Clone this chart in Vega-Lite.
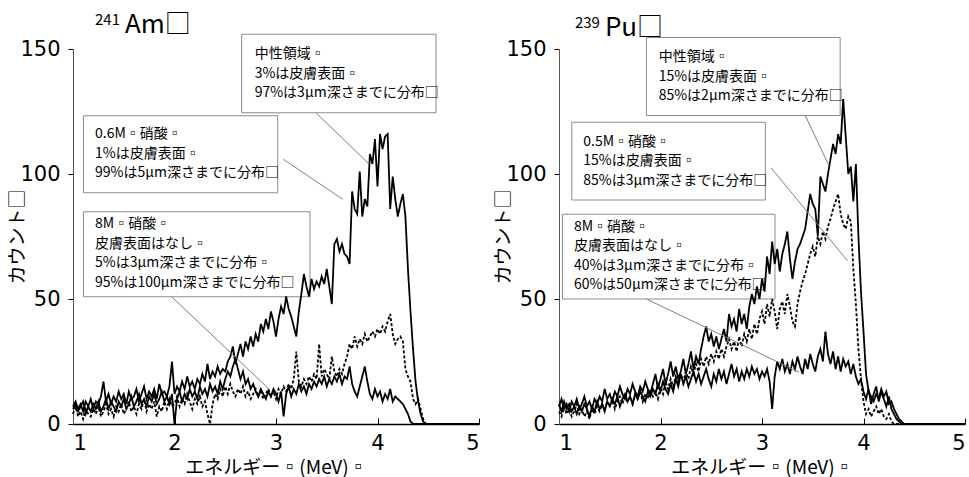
{
 "$schema": "https://vega.github.io/schema/vega-lite/v6.json",
 "background": "white",
 "padding": {"left": 8, "top": 12, "right": 0, "bottom": 0},
 "spacing": 11,
 "config": {
  "font": "Noto Sans CJK JP",
  "view": {"stroke": null},
  "scale": {"continuousPadding": 0},
  "axis": {"grid": false, "domainColor": "#000", "tickColor": "#000", "labelColor": "#000", "titleColor": "#000", "labelFont": "DejaVu Sans", "titleFont": "Noto Sans CJK JP", "titleFontWeight": "normal", "labelFontSize": 21, "titleFontSize": 19}
 },
 "datasets": {
  "am": [
   {"e":1.000,"a":7,"b":4,"c":6},{"e":1.025,"a":9,"b":7,"c":8},{"e":1.050,"a":6,"b":3,"c":5},{"e":1.075,"a":8,"b":5,"c":7},{"e":1.100,"a":5,"b":2,"c":9},{"e":1.125,"a":9,"b":6,"c":4},{"e":1.150,"a":7,"b":4,"c":7},{"e":1.175,"a":10,"b":3,"c":5},{"e":1.200,"a":6,"b":6,"c":8},{"e":1.225,"a":9,"b":4,"c":6},
   {"e":1.250,"a":8,"b":7,"c":9},{"e":1.275,"a":11,"b":3,"c":5},{"e":1.300,"a":17,"b":5,"c":7},{"e":1.325,"a":9,"b":8,"c":10},{"e":1.350,"a":12,"b":4,"c":6},{"e":1.375,"a":8,"b":6,"c":9},{"e":1.400,"a":11,"b":3,"c":7},{"e":1.425,"a":9,"b":7,"c":5},{"e":1.450,"a":13,"b":5,"c":9},{"e":1.475,"a":10,"b":8,"c":7},
   {"e":1.500,"a":12,"b":4,"c":10},{"e":1.525,"a":8,"b":6,"c":6},{"e":1.550,"a":13,"b":9,"c":8},{"e":1.575,"a":10,"b":5,"c":11},{"e":1.600,"a":11,"b":7,"c":7},{"e":1.625,"a":14,"b":4,"c":9},{"e":1.650,"a":9,"b":8,"c":12},{"e":1.675,"a":12,"b":6,"c":8},{"e":1.700,"a":15,"b":10,"c":10},{"e":1.725,"a":10,"b":5,"c":7},
   {"e":1.750,"a":13,"b":8,"c":11},{"e":1.775,"a":11,"b":6,"c":9},{"e":1.800,"a":14,"b":9,"c":12},{"e":1.825,"a":10,"b":3,"c":8},{"e":1.850,"a":16,"b":7,"c":10},{"e":1.875,"a":12,"b":5,"c":13},{"e":1.900,"a":13,"b":9,"c":9},{"e":1.925,"a":11,"b":6,"c":11},{"e":1.950,"a":15,"b":10,"c":8},{"e":1.975,"a":25,"b":7,"c":12},
   {"e":2.000,"a":12,"b":8,"c":0},{"e":2.025,"a":15,"b":11,"c":10},{"e":2.050,"a":13,"b":7,"c":13},{"e":2.075,"a":17,"b":10,"c":9},{"e":2.100,"a":14,"b":8,"c":12},{"e":2.125,"a":19,"b":12,"c":10},{"e":2.150,"a":15,"b":9,"c":14},{"e":2.175,"a":17,"b":6,"c":11},{"e":2.200,"a":14,"b":10,"c":13},{"e":2.225,"a":18,"b":8,"c":10},
   {"e":2.250,"a":16,"b":11,"c":15},{"e":2.275,"a":20,"b":7,"c":12},{"e":2.300,"a":17,"b":9,"c":14},{"e":2.325,"a":24,"b":4,"c":11},{"e":2.350,"a":18,"b":0,"c":16},{"e":2.375,"a":21,"b":8,"c":13},{"e":2.400,"a":19,"b":12,"c":15},{"e":2.425,"a":23,"b":10,"c":12},{"e":2.450,"a":20,"b":14,"c":17},{"e":2.475,"a":22,"b":11,"c":14},
   {"e":2.500,"a":21,"b":15,"c":18},{"e":2.525,"a":25,"b":12,"c":21},{"e":2.550,"a":27,"b":16,"c":19},{"e":2.575,"a":31,"b":13,"c":23},{"e":2.600,"a":24,"b":11,"c":26},{"e":2.625,"a":28,"b":14,"c":22},{"e":2.650,"a":32,"b":12,"c":18},{"e":2.675,"a":27,"b":15,"c":21},{"e":2.700,"a":33,"b":11,"c":16},{"e":2.725,"a":30,"b":13,"c":18},
   {"e":2.750,"a":35,"b":10,"c":14},{"e":2.775,"a":31,"b":12,"c":16},{"e":2.800,"a":36,"b":14,"c":13},{"e":2.825,"a":33,"b":11,"c":11},{"e":2.850,"a":40,"b":13,"c":14},{"e":2.875,"a":37,"b":10,"c":12},{"e":2.900,"a":42,"b":12,"c":10},{"e":2.925,"a":38,"b":14,"c":13},{"e":2.950,"a":45,"b":11,"c":11},{"e":2.975,"a":41,"b":13,"c":14},
   {"e":3.000,"a":35,"b":10,"c":12},{"e":3.025,"a":42,"b":14,"c":9},{"e":3.050,"a":47,"b":12,"c":13},{"e":3.075,"a":44,"b":15,"c":3},{"e":3.100,"a":51,"b":13,"c":12},{"e":3.125,"a":46,"b":16,"c":15},{"e":3.150,"a":43,"b":14,"c":11},{"e":3.175,"a":39,"b":18,"c":14},{"e":3.200,"a":35,"b":29,"c":12},{"e":3.225,"a":45,"b":17,"c":16},
   {"e":3.250,"a":52,"b":15,"c":13},{"e":3.275,"a":60,"b":18,"c":15},{"e":3.300,"a":55,"b":16,"c":12},{"e":3.325,"a":51,"b":19,"c":16},{"e":3.350,"a":58,"b":17,"c":14},{"e":3.375,"a":54,"b":20,"c":17},{"e":3.400,"a":57,"b":18,"c":15},{"e":3.425,"a":55,"b":32,"c":18},{"e":3.450,"a":59,"b":19,"c":16},{"e":3.475,"a":56,"b":22,"c":19},
   {"e":3.500,"a":62,"b":20,"c":15},{"e":3.525,"a":55,"b":18,"c":18},{"e":3.550,"a":48,"b":27,"c":16},{"e":3.575,"a":72,"b":21,"c":19},{"e":3.600,"a":74,"b":19,"c":17},{"e":3.625,"a":69,"b":22,"c":20},{"e":3.650,"a":72,"b":20,"c":16},{"e":3.675,"a":68,"b":24,"c":19},{"e":3.700,"a":67,"b":27,"c":18},{"e":3.725,"a":64,"b":32,"c":23},
   {"e":3.750,"a":93,"b":30,"c":16},{"e":3.775,"a":86,"b":35,"c":13},{"e":3.800,"a":84,"b":31,"c":11},{"e":3.825,"a":101,"b":34,"c":15},{"e":3.850,"a":83,"b":32,"c":19},{"e":3.875,"a":90,"b":36,"c":23},{"e":3.900,"a":87,"b":33,"c":17},{"e":3.925,"a":108,"b":35,"c":12},{"e":3.950,"a":104,"b":37,"c":10},{"e":3.975,"a":114,"b":35,"c":14},
   {"e":4.000,"a":95,"b":38,"c":11},{"e":4.025,"a":116,"b":36,"c":13},{"e":4.050,"a":110,"b":39,"c":9},{"e":4.075,"a":115,"b":37,"c":12},{"e":4.100,"a":116,"b":41,"c":10},{"e":4.125,"a":86,"b":44,"c":14},{"e":4.150,"a":99,"b":36,"c":9},{"e":4.175,"a":90,"b":32,"c":11},{"e":4.200,"a":83,"b":34,"c":10},{"e":4.225,"a":88,"b":35,"c":9},
   {"e":4.250,"a":92,"b":33,"c":8},{"e":4.275,"a":83,"b":22,"c":6},{"e":4.300,"a":62,"b":19,"c":4},{"e":4.325,"a":45,"b":17,"c":1},{"e":4.350,"a":30,"b":10,"c":0},{"e":4.375,"a":17,"b":8,"c":0},{"e":4.400,"a":9,"b":10,"c":0},{"e":4.425,"a":4,"b":6,"c":0},{"e":4.450,"a":1,"b":2,"c":0},{"e":4.475,"a":0,"b":0,"c":0},
   {"e":4.500,"a":0,"b":0,"c":0},{"e":5.000,"a":0,"b":0,"c":0}
  ],
  "pu": [
   {"e":1.000,"a":7,"b":5,"c":8},{"e":1.025,"a":10,"b":3,"c":5},{"e":1.050,"a":6,"b":7,"c":9},{"e":1.075,"a":8,"b":4,"c":6},{"e":1.100,"a":5,"b":6,"c":8},{"e":1.125,"a":9,"b":3,"c":5},{"e":1.150,"a":7,"b":5,"c":7},{"e":1.175,"a":10,"b":8,"c":4},{"e":1.200,"a":6,"b":4,"c":7},{"e":1.225,"a":8,"b":6,"c":5},
   {"e":1.250,"a":11,"b":3,"c":8},{"e":1.275,"a":7,"b":5,"c":6},{"e":1.300,"a":9,"b":2,"c":3},{"e":1.325,"a":6,"b":6,"c":7},{"e":1.350,"a":10,"b":4,"c":5},{"e":1.375,"a":8,"b":7,"c":9},{"e":1.400,"a":11,"b":5,"c":6},{"e":1.425,"a":9,"b":8,"c":8},{"e":1.450,"a":14,"b":6,"c":5},{"e":1.475,"a":10,"b":9,"c":9},
   {"e":1.500,"a":12,"b":7,"c":7},{"e":1.525,"a":9,"b":10,"c":10},{"e":1.550,"a":13,"b":6,"c":8},{"e":1.575,"a":11,"b":9,"c":11},{"e":1.600,"a":15,"b":11,"c":7},{"e":1.625,"a":12,"b":8,"c":10},{"e":1.650,"a":10,"b":12,"c":12},{"e":1.675,"a":14,"b":9,"c":9},{"e":1.700,"a":12,"b":11,"c":11},{"e":1.725,"a":16,"b":8,"c":8},
   {"e":1.750,"a":13,"b":12,"c":12},{"e":1.775,"a":11,"b":10,"c":10},{"e":1.800,"a":15,"b":13,"c":13},{"e":1.825,"a":13,"b":9,"c":11},{"e":1.850,"a":17,"b":12,"c":9},{"e":1.875,"a":14,"b":10,"c":13},{"e":1.900,"a":12,"b":14,"c":11},{"e":1.925,"a":16,"b":11,"c":14},{"e":1.950,"a":20,"b":13,"c":12},{"e":1.975,"a":14,"b":10,"c":16},
   {"e":2.000,"a":18,"b":15,"c":13},{"e":2.025,"a":22,"b":12,"c":17},{"e":2.050,"a":16,"b":17,"c":14},{"e":2.075,"a":20,"b":14,"c":12},{"e":2.100,"a":25,"b":18,"c":16},{"e":2.125,"a":19,"b":15,"c":13},{"e":2.150,"a":23,"b":19,"c":18},{"e":2.175,"a":18,"b":16,"c":15},{"e":2.200,"a":21,"b":20,"c":20},{"e":2.225,"a":26,"b":17,"c":16},
   {"e":2.250,"a":20,"b":21,"c":19},{"e":2.275,"a":24,"b":18,"c":15},{"e":2.300,"a":29,"b":23,"c":18},{"e":2.325,"a":22,"b":20,"c":21},{"e":2.350,"a":27,"b":24,"c":17},{"e":2.375,"a":24,"b":21,"c":20},{"e":2.400,"a":30,"b":26,"c":16},{"e":2.425,"a":35,"b":23,"c":19},{"e":2.450,"a":39,"b":27,"c":22},{"e":2.475,"a":33,"b":24,"c":18},
   {"e":2.500,"a":36,"b":28,"c":15},{"e":2.525,"a":31,"b":25,"c":20},{"e":2.550,"a":35,"b":29,"c":17},{"e":2.575,"a":30,"b":26,"c":22},{"e":2.600,"a":34,"b":30,"c":18},{"e":2.625,"a":38,"b":27,"c":21},{"e":2.650,"a":33,"b":31,"c":16},{"e":2.675,"a":44,"b":34,"c":20},{"e":2.700,"a":39,"b":30,"c":24},{"e":2.725,"a":42,"b":33,"c":19},
   {"e":2.750,"a":37,"b":29,"c":22},{"e":2.775,"a":46,"b":35,"c":17},{"e":2.800,"a":40,"b":31,"c":21},{"e":2.825,"a":44,"b":36,"c":18},{"e":2.850,"a":38,"b":33,"c":22},{"e":2.875,"a":47,"b":38,"c":19},{"e":2.900,"a":52,"b":34,"c":23},{"e":2.925,"a":48,"b":40,"c":20},{"e":2.950,"a":55,"b":36,"c":22},{"e":2.975,"a":50,"b":42,"c":18},
   {"e":3.000,"a":58,"b":45,"c":21},{"e":3.025,"a":53,"b":40,"c":19},{"e":3.050,"a":67,"b":48,"c":22},{"e":3.075,"a":60,"b":43,"c":17},{"e":3.100,"a":73,"b":50,"c":6},{"e":3.125,"a":64,"b":45,"c":19},{"e":3.150,"a":70,"b":38,"c":25},{"e":3.175,"a":61,"b":46,"c":22},{"e":3.200,"a":68,"b":49,"c":26},{"e":3.225,"a":72,"b":44,"c":21},
   {"e":3.250,"a":77,"b":52,"c":24},{"e":3.275,"a":66,"b":47,"c":20},{"e":3.300,"a":58,"b":41,"c":25},{"e":3.325,"a":65,"b":39,"c":22},{"e":3.350,"a":70,"b":48,"c":27},{"e":3.375,"a":72,"b":53,"c":23},{"e":3.400,"a":75,"b":57,"c":20},{"e":3.425,"a":78,"b":60,"c":26},{"e":3.450,"a":85,"b":64,"c":22},{"e":3.475,"a":92,"b":68,"c":28},
   {"e":3.500,"a":88,"b":71,"c":24},{"e":3.525,"a":86,"b":67,"c":21},{"e":3.550,"a":75,"b":75,"c":27},{"e":3.575,"a":99,"b":72,"c":30},{"e":3.600,"a":96,"b":77,"c":25},{"e":3.625,"a":93,"b":74,"c":37},{"e":3.650,"a":100,"b":79,"c":28},{"e":3.675,"a":106,"b":82,"c":24},{"e":3.700,"a":112,"b":86,"c":29},{"e":3.725,"a":108,"b":89,"c":22},
   {"e":3.750,"a":116,"b":92,"c":27},{"e":3.775,"a":112,"b":84,"c":21},{"e":3.800,"a":130,"b":80,"c":26},{"e":3.825,"a":115,"b":78,"c":23},{"e":3.850,"a":100,"b":83,"c":25},{"e":3.875,"a":103,"b":81,"c":20},{"e":3.900,"a":89,"b":62,"c":24},{"e":3.925,"a":104,"b":48,"c":19},{"e":3.950,"a":75,"b":30,"c":16},{"e":3.975,"a":53,"b":18,"c":18},
   {"e":4.000,"a":37,"b":9,"c":13},{"e":4.025,"a":20,"b":4,"c":10},{"e":4.050,"a":13,"b":6,"c":14},{"e":4.075,"a":11,"b":3,"c":8},{"e":4.100,"a":9,"b":5,"c":12},{"e":4.125,"a":12,"b":7,"c":15},{"e":4.150,"a":10,"b":4,"c":9},{"e":4.175,"a":14,"b":6,"c":13},{"e":4.200,"a":11,"b":3,"c":10},{"e":4.225,"a":13,"b":2,"c":7},
   {"e":4.250,"a":8,"b":4,"c":11},{"e":4.275,"a":9,"b":1,"c":6},{"e":4.300,"a":6,"b":0,"c":4},{"e":4.325,"a":4,"b":0,"c":2},{"e":4.350,"a":2,"b":0,"c":1},{"e":4.375,"a":1,"b":0,"c":0},{"e":4.400,"a":0,"b":0,"c":0},{"e":4.500,"a":0,"b":0,"c":0},{"e":5.000,"a":0,"b":0,"c":0}
  ]
 },
 "hconcat": [
  {
   "width": 406, "height": 375,
   "layer": [
    {
     "data": {"values": [
      {"x1": 2.662, "x2": 4.576, "y1": 155.9, "y2": 124.5},
      {"x1": 1.103, "x2": 3.017, "y1": 123.3, "y2": 92.5},
      {"x1": 1.103, "x2": 3.335, "y1": 84.9, "y2": 50.9}
     ]},
     "mark": {"type": "rect", "fill": "white", "stroke": "#8c8c8c", "strokeWidth": 1},
     "encoding": {
      "x": {"field": "x1", "type": "quantitative", "scale": {"domain": [1, 5], "nice": false, "zero": false, "padding": 0},
            "axis": {"title": "エネルギー▫(MeV)▫", "values": [1, 2, 3, 4, 5], "format": "d", "tickSize": -6, "labelPadding": 14, "titlePadding": 5, "domainWidth": 1.5}},
      "x2": {"field": "x2"},
      "y": {"field": "y1", "type": "quantitative", "scale": {"domain": [0, 150], "nice": false, "padding": 0},
            "axis": {"title": "カウント□", "values": [0, 50, 100, 150], "tickSize": 5, "labelPadding": 8, "titlePadding": -8, "domainColor": "#555"}},
      "y2": {"field": "y2"}
     }
    },
    {
     "data": {"name": "am"},
     "transform": [{"fold": ["a", "b", "c"], "as": ["s", "v"]}],
     "mark": {"type": "line", "color": "black", "strokeWidth": 1.8},
     "encoding": {
      "x": {"field": "e", "type": "quantitative", "title": "エネルギー▫(MeV)▫", "scale": {"domain": [1, 5], "nice": false, "zero": false, "padding": 0}},
      "y": {"field": "v", "type": "quantitative", "title": "カウント□", "scale": {"domain": [0, 150], "nice": false, "padding": 0}},
      "strokeDash": {"field": "s", "type": "nominal", "scale": {"domain": ["a", "b", "c"], "range": [[1, 0], [3, 2], [1, 0]]}, "legend": null}
     }
    },
    {
     "data": {"values": [
      {"x": 2.79, "y": 150.8, "t": "中性領域▫\n3%は皮膚表面▫\n97%は3µm深さまでに分布□"},
      {"x": 1.217, "y": 118.8, "t": "0.6M▫硝酸▫\n1%は皮膚表面▫\n99%は5µm深さまでに分布□"},
      {"x": 1.217, "y": 82.8, "t": "8M▫硝酸▫\n皮膚表面はなし▫\n5%は3µm深さまでに分布▫\n95%は100µm深さまでに分布□"}
     ]},
     "mark": {"type": "text", "align": "left", "baseline": "top", "fontSize": 14, "lineHeight": 19.5, "lineBreak": "\n", "fill": "black"},
     "encoding": {
      "x": {"field": "x", "type": "quantitative", "title": "エネルギー▫(MeV)▫", "scale": {"domain": [1, 5], "nice": false, "zero": false, "padding": 0}},
      "y": {"field": "y", "type": "quantitative", "title": "カウント□", "scale": {"domain": [0, 150], "nice": false, "padding": 0}},
      "text": {"field": "t"}
     }
    },
    {
     "data": {"values": [
      {"x1": 3.394, "y1": 124.5, "x2": 3.909, "y2": 104.3},
      {"x1": 3.072, "y1": 105.9, "x2": 3.657, "y2": 89.9},
      {"x1": 1.972, "y1": 50.9, "x2": 2.941, "y2": 13.6}
     ]},
     "mark": {"type": "rule", "color": "#808080", "strokeWidth": 1},
     "encoding": {
      "x": {"field": "x1", "type": "quantitative", "title": "エネルギー▫(MeV)▫", "scale": {"domain": [1, 5], "nice": false, "zero": false, "padding": 0}},
      "y": {"field": "y1", "type": "quantitative", "title": "カウント□", "scale": {"domain": [0, 150], "nice": false, "padding": 0}},
      "x2": {"field": "x2"},
      "y2": {"field": "y2"}
     }
    },
    {
     "data": {"values": [
      {"x": 1.217, "y": 159.6, "t": "241", "s": 15},
      {"x": 1.512, "y": 156.4, "t": "Am□", "s": 26}
     ]},
     "mark": {"type": "text", "align": "left", "baseline": "alphabetic", "fill": "black"},
     "encoding": {
      "x": {"field": "x", "type": "quantitative", "title": "エネルギー▫(MeV)▫", "scale": {"domain": [1, 5], "nice": false, "zero": false, "padding": 0}},
      "y": {"field": "y", "type": "quantitative", "title": "カウント□", "scale": {"domain": [0, 150], "nice": false, "padding": 0}},
      "text": {"field": "t"},
      "size": {"field": "s", "type": "quantitative", "scale": null, "legend": null}
     }
    }
   ]
  },
  {
   "width": 406, "height": 375,
   "layer": [
    {
     "data": {"values": [
      {"x1": 1.861, "x2": 3.770, "y1": 154.6, "y2": 123.4},
      {"x1": 1.126, "x2": 3.033, "y1": 120.7, "y2": 89.6},
      {"x1": 1.034, "x2": 3.128, "y1": 83.9, "y2": 50.0}
     ]},
     "mark": {"type": "rect", "fill": "white", "stroke": "#8c8c8c", "strokeWidth": 1},
     "encoding": {
      "x": {"field": "x1", "type": "quantitative", "scale": {"domain": [1, 5], "nice": false, "zero": false, "padding": 0},
            "axis": {"title": "エネルギー▫(MeV)▫", "values": [1, 2, 3, 4, 5], "format": "d", "tickSize": -6, "labelPadding": 14, "titlePadding": 5, "domainWidth": 1.5}},
      "x2": {"field": "x2"},
      "y": {"field": "y1", "type": "quantitative", "scale": {"domain": [0, 150], "nice": false, "padding": 0},
            "axis": {"title": "カウント□", "values": [0, 50, 100, 150], "tickSize": 5, "labelPadding": 8, "titlePadding": -8, "domainColor": "#555"}},
      "y2": {"field": "y2"}
     }
    },
    {
     "data": {"name": "pu"},
     "transform": [{"fold": ["a", "b", "c"], "as": ["s", "v"]}],
     "mark": {"type": "line", "color": "black", "strokeWidth": 1.8},
     "encoding": {
      "x": {"field": "e", "type": "quantitative", "title": "エネルギー▫(MeV)▫", "scale": {"domain": [1, 5], "nice": false, "zero": false, "padding": 0}},
      "y": {"field": "v", "type": "quantitative", "title": "カウント□", "scale": {"domain": [0, 150], "nice": false, "padding": 0}},
      "strokeDash": {"field": "s", "type": "nominal", "scale": {"domain": ["a", "b", "c"], "range": [[1, 0], [3, 2], [1, 0]]}, "legend": null}
     }
    },
    {
     "data": {"values": [
      {"x": 1.982, "y": 149.6, "t": "中性領域▫\n15%は皮膚表面▫\n85%は2µm深さまでに分布□"},
      {"x": 1.239, "y": 115.7, "t": "0.5M▫硝酸▫\n15%は皮膚表面▫\n85%は3µm深さまでに分布□"},
      {"x": 1.147, "y": 81.8, "t": "8M▫硝酸▫\n皮膚表面はなし▫\n40%は3µm深さまでに分布▫\n60%は50µm深さまでに分布□"}
     ]},
     "mark": {"type": "text", "align": "left", "baseline": "top", "fontSize": 14, "lineHeight": 19.5, "lineBreak": "\n", "fill": "black"},
     "encoding": {
      "x": {"field": "x", "type": "quantitative", "title": "エネルギー▫(MeV)▫", "scale": {"domain": [1, 5], "nice": false, "zero": false, "padding": 0}},
      "y": {"field": "y", "type": "quantitative", "title": "カウント□", "scale": {"domain": [0, 150], "nice": false, "padding": 0}},
      "text": {"field": "t"}
     }
    },
    {
     "data": {"values": [
      {"x1": 3.426, "y1": 123.4, "x2": 3.662, "y2": 103.2},
      {"x1": 3.089, "y1": 102.5, "x2": 3.842, "y2": 65.3},
      {"x1": 1.861, "y1": 50.0, "x2": 3.367, "y2": 20.7}
     ]},
     "mark": {"type": "rule", "color": "#808080", "strokeWidth": 1},
     "encoding": {
      "x": {"field": "x1", "type": "quantitative", "title": "エネルギー▫(MeV)▫", "scale": {"domain": [1, 5], "nice": false, "zero": false, "padding": 0}},
      "y": {"field": "y1", "type": "quantitative", "title": "カウント□", "scale": {"domain": [0, 150], "nice": false, "padding": 0}},
      "x2": {"field": "x2"},
      "y2": {"field": "y2"}
     }
    },
    {
     "data": {"values": [
      {"x": 1.157, "y": 158.4, "t": "239", "s": 15},
      {"x": 1.452, "y": 155.2, "t": "Pu□", "s": 26}
     ]},
     "mark": {"type": "text", "align": "left", "baseline": "alphabetic", "fill": "black"},
     "encoding": {
      "x": {"field": "x", "type": "quantitative", "title": "エネルギー▫(MeV)▫", "scale": {"domain": [1, 5], "nice": false, "zero": false, "padding": 0}},
      "y": {"field": "y", "type": "quantitative", "title": "カウント□", "scale": {"domain": [0, 150], "nice": false, "padding": 0}},
      "text": {"field": "t"},
      "size": {"field": "s", "type": "quantitative", "scale": null, "legend": null}
     }
    }
   ]
  }
 ]
}
